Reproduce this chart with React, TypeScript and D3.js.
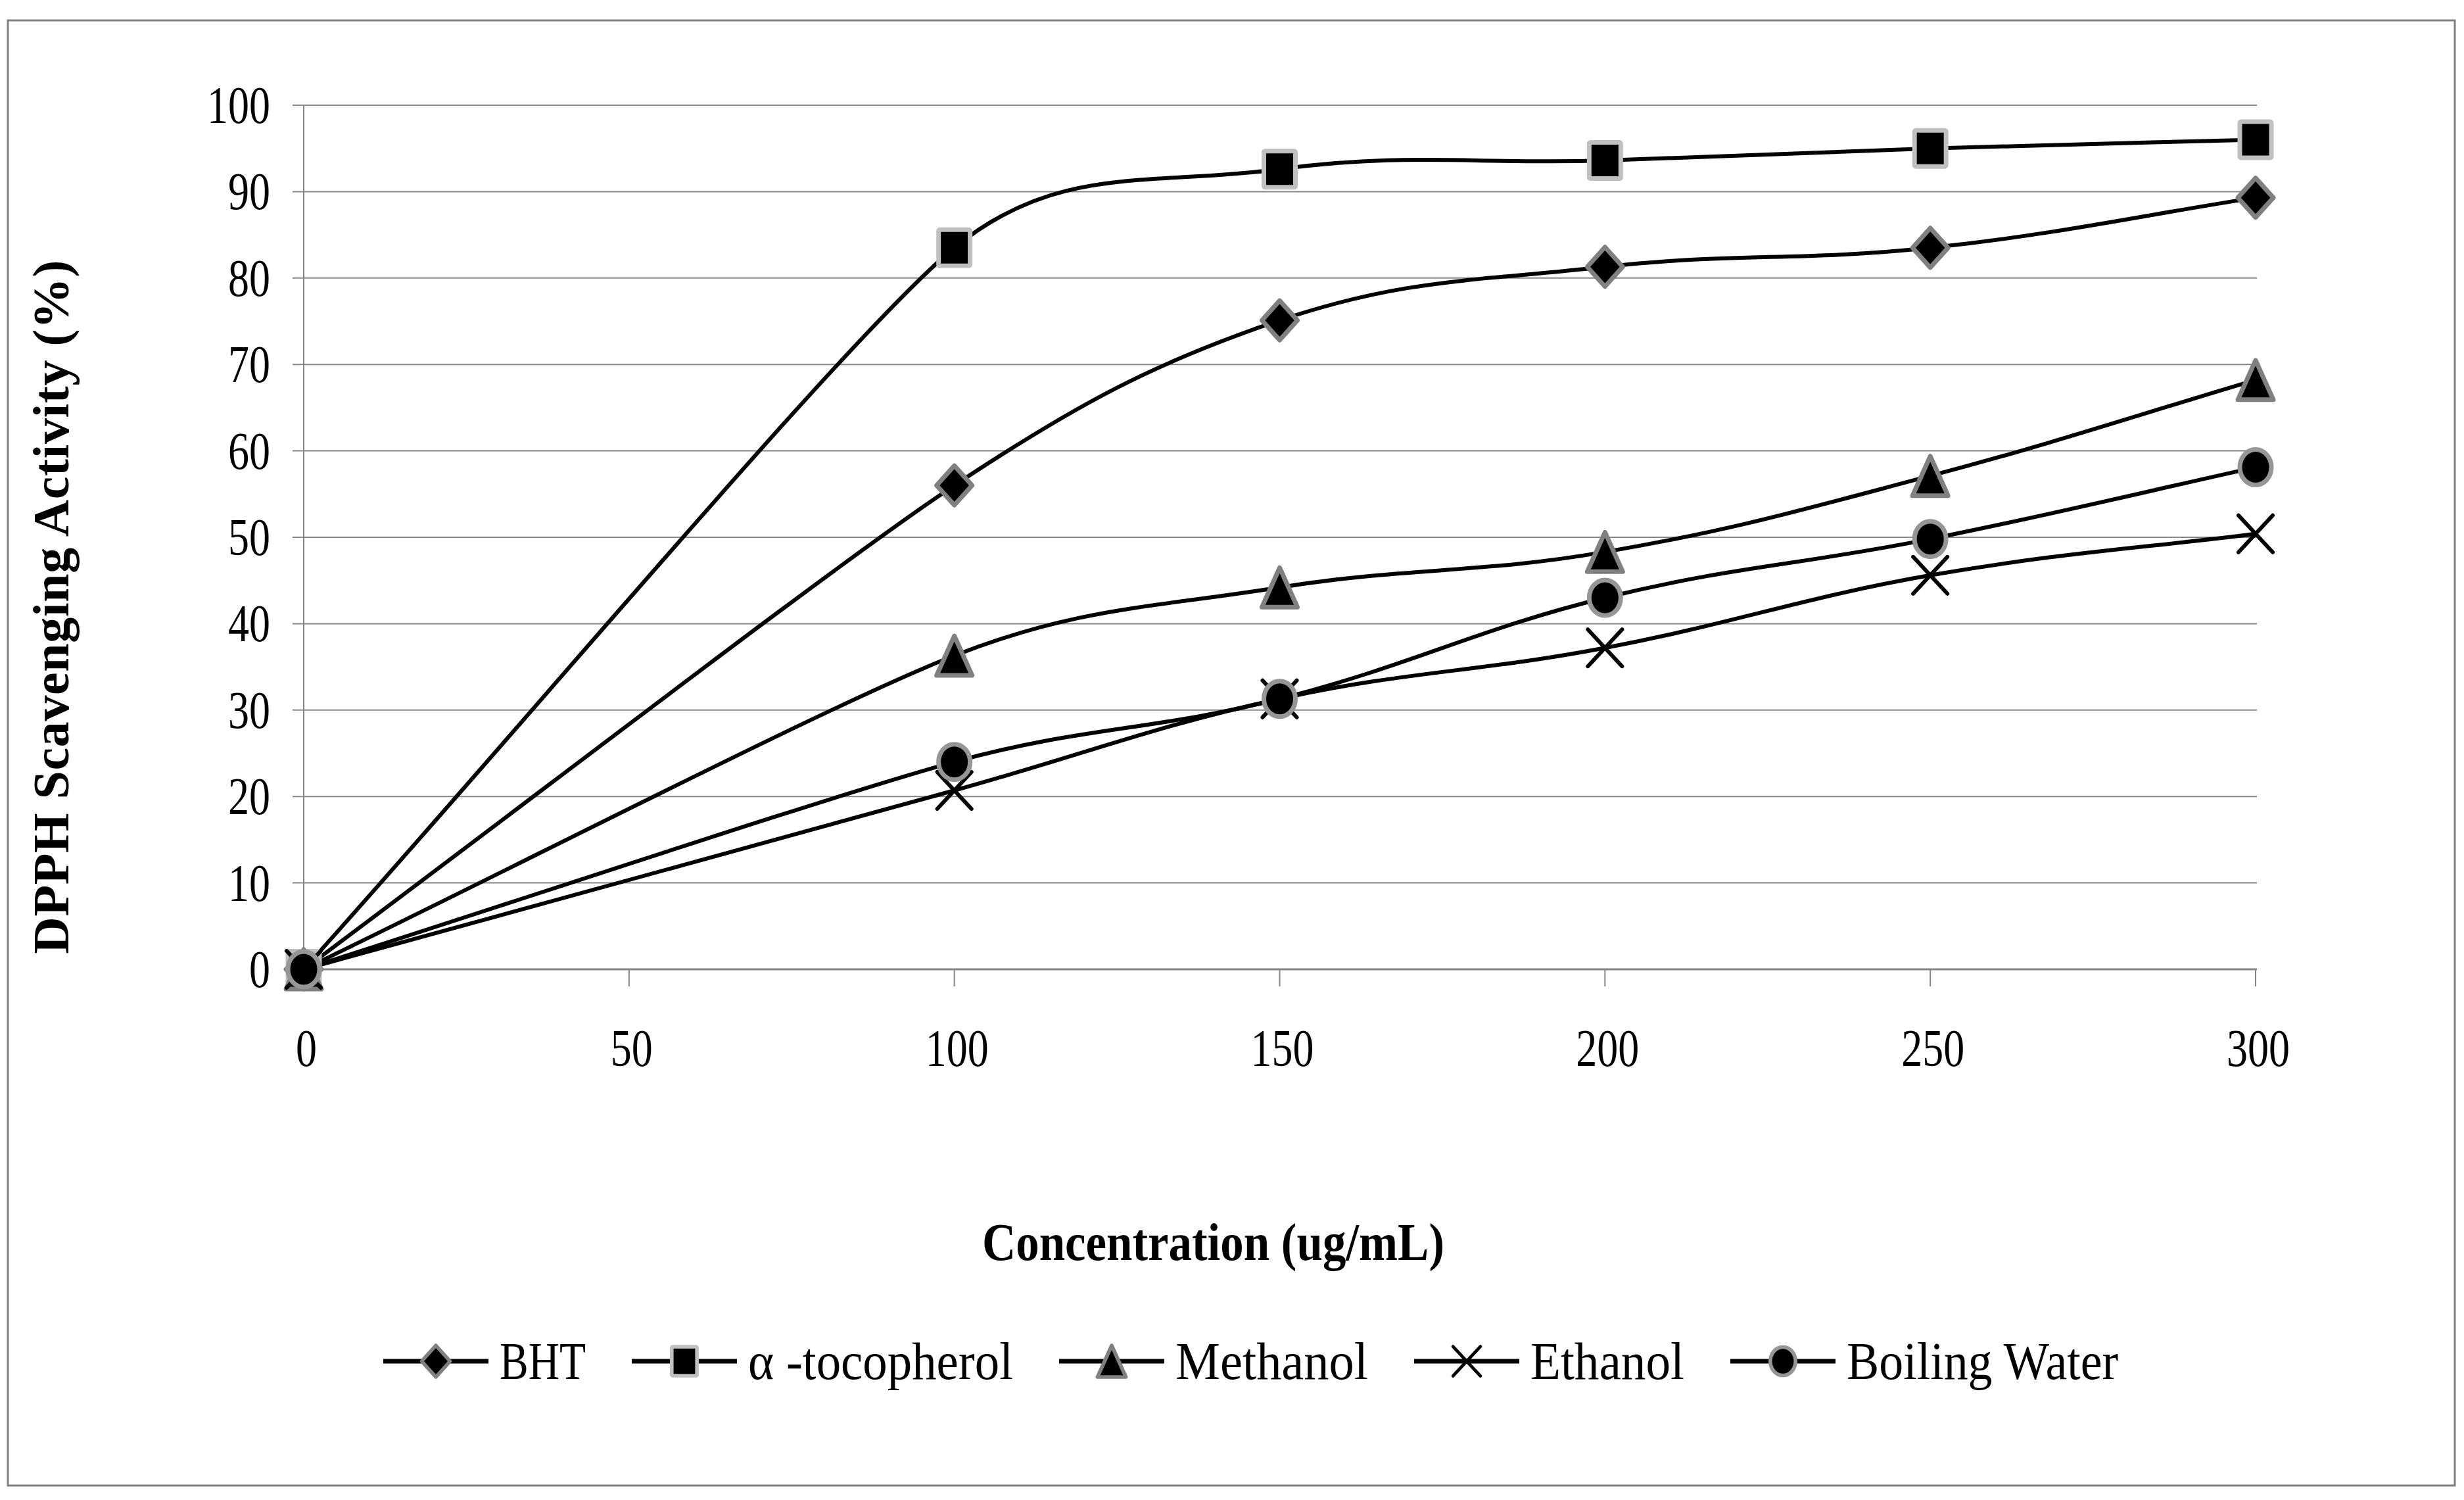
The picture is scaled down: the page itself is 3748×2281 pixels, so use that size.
import React from "react";
import * as d3 from "d3";

const concentrations = [0, 100, 150, 200, 250, 300];
const bhtValues = [0, 56.0, 75.1, 81.3, 83.5, 89.3];
const tocopherolValues = [0, 83.5, 92.6, 93.6, 95.0, 96.0];
const methanolValues = [0, 36.3, 44.2, 48.3, 57.1, 68.2];
const ethanolValues = [0, 20.7, 31.3, 37.2, 45.6, 50.4];
const boilingWaterValues = [0, 24.0, 31.3, 43.0, 49.8, 58.1];

const seriesNames = ["BHT", "α -tocopherol", "Methanol", "Ethanol", "Boiling Water"];
const seriesMarkers = ["diamond", "square", "triangle", "cross", "circle"];
const yTicks = [0, 10, 20, 30, 40, 50, 60, 70, 80, 90, 100];
const xTicks = [0, 50, 100, 150, 200, 250, 300];

const W = 3748;
const H = 2281;
const FONT = "'Liberation Serif', 'Times New Roman', serif";

// Smoothed path (Excel-like): tangent along neighbours, handle length limited by the shorter adjacent segment
function smoothPath(pts: [number, number][], c = 0.4): string {
  const p = d3.path();
  const n = pts.length;
  const dist = (a: [number, number], b: [number, number]) => Math.hypot(b[0] - a[0], b[1] - a[1]);
  const tangents: [number, number][] = pts.map((pt, i) => {
    const a = pts[Math.max(0, i - 1)];
    const b = pts[Math.min(n - 1, i + 1)];
    const dx = b[0] - a[0];
    const dy = b[1] - a[1];
    const L = Math.hypot(dx, dy) || 1;
    return [dx / L, dy / L];
  });
  p.moveTo(pts[0][0], pts[0][1]);
  for (let i = 0; i < n - 1; i++) {
    const a = pts[i];
    const b = pts[i + 1];
    const seg = dist(a, b);
    const prevSeg = i > 0 ? dist(pts[i - 1], a) : seg;
    const nextSeg = i + 2 < n ? dist(b, pts[i + 2]) : seg;
    const ha = (i === 0 ? seg / 3 : Math.min(prevSeg, seg) * c);
    const hb = (i + 1 === n - 1 ? seg / 3 : Math.min(seg, nextSeg) * c);
    const ta = tangents[i];
    const tb = tangents[i + 1];
    p.bezierCurveTo(a[0] + ta[0] * ha, a[1] + ta[1] * ha, b[0] - tb[0] * hb, b[1] - tb[1] * hb, b[0], b[1]);
  }
  return p.toString();
}

function Marker({ type, x, y, s = 1 }: { type: string; x: number; y: number; s?: number }) {
  const t = `translate(${x},${y}) scale(${s})`;
  if (type === "square") {
    return (
      <rect transform={t} x={-24} y={-27.5} width={48} height={55} rx={2}
        fill="#000" stroke="#c0c0c0" strokeWidth={7} />
    );
  }
  if (type === "diamond") {
    return (
      <path transform={t} d="M0,-30 L27,0 L0,30 L-27,0 Z" fill="#000"
        stroke="#808080" strokeWidth={7} strokeLinejoin="round" />
    );
  }
  if (type === "triangle") {
    return (
      <path transform={t} d="M0,-30 L27,30 L-27,30 Z" fill="#000"
        stroke="#808080" strokeWidth={7} strokeLinejoin="round" />
    );
  }
  if (type === "circle") {
    return (
      <ellipse transform={t} cx={0} cy={0} rx={24} ry={27} fill="#000"
        stroke="#969696" strokeWidth={7} />
    );
  }
  return (
    <g transform={t} stroke="#000" strokeWidth={6} strokeLinecap="round">
      <line x1={-26} y1={-28} x2={26} y2={28} />
      <line x1={-26} y1={28} x2={26} y2={-28} />
    </g>
  );
}

export default function App() {
  const x = d3.scaleLinear().domain([0, 300]).range([462, 3431]);
  const y = d3.scaleLinear().domain([0, 100]).range([1474, 160]);

  const allSeries = [bhtValues, tocopherolValues, methanolValues, ethanolValues, boilingWaterValues];

  const legendTextWidths = [131, 403, 293, 234, 413];
  const legendY = 2070;
  let cursor = 583;
  const legendItems = seriesNames.map((name, i) => {
    const start = cursor;
    const textX = start + 177;
    cursor = textX + legendTextWidths[i] + 70;
    return { name, i, start, textX };
  });

  const gridColor = "#868686";

  return (
    <svg width={W} height={H} style={{ position: "absolute", left: 0, top: 0, display: "block" }}
      xmlns="http://www.w3.org/2000/svg">
      <rect x={0} y={0} width={W} height={H} fill="#fff" />
      <rect x={12} y={31} width={3722} height={2228} fill="none" stroke="#808080" strokeWidth={3} />

      {/* gridlines */}
      {yTicks.map((t) => (
        <line key={"g" + t} x1={445} x2={x(300) + 2} y1={y(t)} y2={y(t)}
          stroke={gridColor} strokeWidth={t === 0 ? 3 : 2} />
      ))}
      {/* y axis */}
      <line x1={x(0)} x2={x(0)} y1={y(100)} y2={y(0) + 26} stroke={gridColor} strokeWidth={2} />
      {xTicks.map((t) => (
        <line key={"xt" + t} x1={x(t)} x2={x(t)} y1={y(0)} y2={y(0) + 26} stroke={gridColor} strokeWidth={2} />
      ))}

      {/* y tick labels */}
      {yTicks.map((t) => (
        <text key={"yl" + t} transform={`translate(411,${y(t) + 27}) scale(0.79,1)`}
          textAnchor="end" fontFamily={FONT} fontSize={81} fill="#000">{t}</text>
      ))}
      {/* x tick labels */}
      {xTicks.map((t) => (
        <text key={"xl" + t} transform={`translate(${x(t) + 4},1621) scale(0.79,1)`}
          textAnchor="middle" fontFamily={FONT} fontSize={81} fill="#000">{t}</text>
      ))}

      {/* axis titles */}
      <text transform="translate(104,923) rotate(-90)" textAnchor="middle" fontFamily={FONT}
        fontWeight="bold" fontSize={78} textLength={1055} lengthAdjust="spacing" fill="#000">
        DPPH Scavenging Activity (%)
      </text>
      <text x={1494} y={1916} fontFamily={FONT} fontWeight="bold" fontSize={80}
        textLength={703} lengthAdjust="spacingAndGlyphs" fill="#000">
        Concentration (ug/mL)
      </text>

      {/* series lines */}
      {allSeries.map((vals, i) => (
        <path key={"l" + i}
          d={smoothPath(concentrations.map((c, j) => [x(c), y(vals[j])] as [number, number]))}
          fill="none" stroke="#000" strokeWidth={6} strokeLinejoin="round" />
      ))}
      {/* markers */}
      {allSeries.map((vals, i) => (
        <g key={"m" + i}>
          {concentrations.map((c, j) => (
            <Marker key={j} type={seriesMarkers[i]} x={x(c)} y={y(vals[j])} />
          ))}
        </g>
      ))}

      {/* legend */}
      {legendItems.map((it) => (
        <g key={"lg" + it.i}>
          <line x1={it.start} x2={it.start + 160} y1={legendY} y2={legendY} stroke="#000" strokeWidth={7} />
          <Marker type={seriesMarkers[it.i]} x={it.start + 80} y={legendY} s={0.8} />
          <text x={it.textX} y={legendY + 27} fontFamily={FONT} fontSize={80}
            textLength={legendTextWidths[it.i]} lengthAdjust="spacingAndGlyphs" fill="#000">
            {it.name}
          </text>
        </g>
      ))}
    </svg>
  );
}
